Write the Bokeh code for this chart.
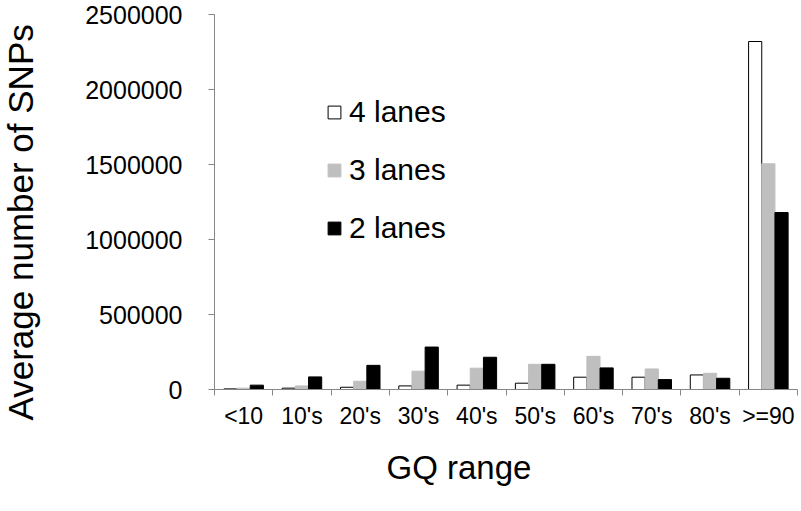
from bokeh.plotting import figure
from bokeh.models import (Range1d, FixedTicker, Legend, LegendItem, ColumnDataSource,
                          NumeralTickFormatter, Title, LinearAxis)
from bokeh.embed import file_html
from bokeh.resources import INLINE
import numpy as np

categories = ["<10", "10's", "20's", "30's", "40's", "50's", "60's", "70's", "80's", ">=90"]
lanes4 = [4000, 9000, 15000, 24000, 29000, 42000, 82000, 82000, 97000, 2320000]
lanes3 = [9000, 24000, 55000, 122000, 142000, 168000, 221000, 137000, 108000, 1505000]
lanes2 = [29000, 84000, 161000, 283000, 215000, 168000, 144000, 66000, 75000, 1180000]
y_ticks = [0, 500000, 1000000, 1500000, 2000000, 2500000]
series_labels = ["4 lanes", "3 lanes", "2 lanes"]

FONT = "Liberation Sans"
AXIS_GREY = "#868686"
BAR_W = 0.226

n = len(categories)
centers = np.arange(n) + 0.5

p = figure(width=800, height=511, output_backend="svg", toolbar_location=None,
           x_range=Range1d(0, n), y_range=Range1d(0, y_ticks[-1]),
           min_border_left=208, min_border_right=3, min_border_top=14, min_border_bottom=122)
p.outline_line_color = None
p.xgrid.visible = False
p.ygrid.visible = False
p.background_fill_color = "white"

src = ColumnDataSource(dict(
    x4=centers - BAR_W, x3=centers, x2=centers + BAR_W,
    l4=lanes4, l3=lanes3, l2=lanes2))

r4 = p.vbar(x="x4", top="l4", bottom=0, width=BAR_W, source=src,
            fill_color="white", line_color="black", line_width=1)
r3 = p.vbar(x="x3", top="l3", bottom=0, width=BAR_W, source=src,
            fill_color="#BFBFBF", line_color="#BFBFBF", line_width=1)
r2 = p.vbar(x="x2", top="l2", bottom=0, width=BAR_W, source=src,
            fill_color="black", line_color="black", line_width=1)

# x axis: labels at category centres, tick marks at category boundaries
xax = p.xaxis[0]
xax.ticker = FixedTicker(ticks=list(centers), minor_ticks=list(range(n + 1)))
xax.major_label_overrides = {float(c): lab for c, lab in zip(centers, categories)}
xax.major_tick_line_color = None
xax.minor_tick_in = 0
xax.minor_tick_out = 6
xax.minor_tick_line_color = AXIS_GREY
xax.axis_line_color = AXIS_GREY
xax.major_label_text_font = FONT
xax.major_label_text_font_size = "23px"
xax.major_label_text_color = "black"
xax.major_label_standoff = 7

yax = p.yaxis[0]
yax.ticker = FixedTicker(ticks=y_ticks)
yax.formatter = NumeralTickFormatter(format="0")
yax.minor_tick_line_color = None
yax.major_tick_in = 0
yax.major_tick_out = 6
yax.major_tick_line_color = AXIS_GREY
yax.axis_line_color = AXIS_GREY
yax.major_label_text_font = FONT
yax.major_label_text_font_size = "25px"
yax.major_label_text_color = "black"
yax.major_label_standoff = 26

# empty spacer between the y tick labels and the y title (its single tick is white on white)
spacer = LinearAxis(ticker=FixedTicker(ticks=[0]), major_tick_in=0, major_tick_out=41,
                    axis_line_color=None, major_tick_line_color="white",
                    minor_tick_line_color=None, major_label_standoff=0,
                    major_label_overrides={0: ""}, major_label_text_font_size="1px")
p.add_layout(spacer, "left")

ytitle = Title(text="Average number of SNPs", align="left", offset=-31, standoff=0,
               vertical_align="top",
               text_font=FONT, text_font_size="35px", text_font_style="normal",
               text_color="black")
p.add_layout(ytitle, "left")

xtitle = Title(text="GQ range", align="left", offset=172, standoff=33,
               vertical_align="middle",
               text_font=FONT, text_font_size="33px", text_font_style="normal",
               text_color="black")
p.add_layout(xtitle, "below")

legend = Legend(items=[LegendItem(label=series_labels[0], renderers=[r4]),
                       LegendItem(label=series_labels[1], renderers=[r3]),
                       LegendItem(label=series_labels[2], renderers=[r2])],
                location=(112, 144), orientation="vertical",
                glyph_width=16, glyph_height=16, label_standoff=7,
                spacing=24, padding=0, margin=0,
                label_text_font=FONT, label_text_font_size="30px",
                label_text_color="black",
                border_line_color=None, background_fill_alpha=0)
p.add_layout(legend, "center")

open("out.html", "w").write(file_html(p, INLINE))
